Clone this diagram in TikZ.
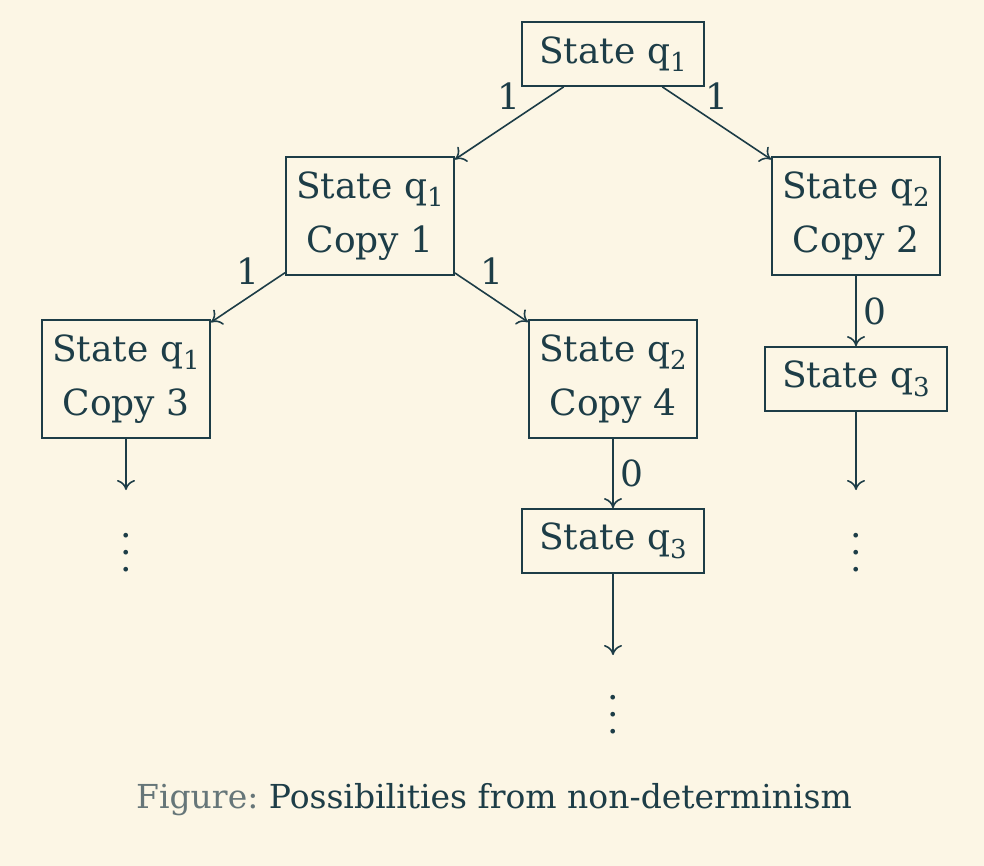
\documentclass[tikz,border=0pt]{standalone}
\usepackage{fontspec}
\setmainfont{DejaVu Serif}
\usepackage{tikz}
\usetikzlibrary{arrows.meta,positioning}
\definecolor{ink}{HTML}{1D3D47}
\definecolor{paper}{HTML}{FCF6E5}
\definecolor{figgray}{HTML}{667679}
\tikzstyle{state}=[rectangle,draw=ink,fill=paper,line width=0.9pt,minimum width=91pt,minimum height=32pt,inner sep=0pt,align=center,font=\fontsize{18}{27}\selectfont]
\tikzstyle{copystate}=[state,minimum width=84pt,minimum height=59pt]
\tikzstyle{edge} = [draw,line width=0.8pt,-{To[length=5pt,width=9pt]},ink]
\tikzstyle{weight} = [font=\fontsize{18}{20}\selectfont,text=ink]
\newcommand{\qsub}[1]{q\raisebox{-0.45ex}{\fontsize{13}{13}\selectfont #1}}
\newcommand{\moredots}{\vbox{\baselineskip=8.5pt\lineskiplimit=0pt\hbox{.}\hbox{.}\hbox{.}}}

\begin{document}
\begin{tikzpicture}[x=0.5pt,y=-0.5pt,text=ink]
    \fill[paper] (0,0) rectangle (984,866);
    \useasboundingbox (0,0) rectangle (984,866);
    % First we draw the states
    \foreach \pos/\name/\label in {{(613,54)/R/State \qsub{1}}, {(856,379)/B3/State \qsub{3}}, {(613,541)/A3/State \qsub{3}}}
        \node[state] (\name) at \pos {\label};

    \foreach \pos/\name/\label in {{(370,216)/C1/State \qsub{1}\\Copy 1}, {(856,216)/C2/State \qsub{2}\\Copy 2},
                                   {(126,379)/C3/State \qsub{1}\\Copy 3}, {(613,379)/C4/State \qsub{2}\\Copy 4}}
        \node[copystate] (\name) at \pos {\label};

    % Ends of the open branches
    \coordinate (E1) at (126,490);
    \coordinate (E2) at (613,655);
    \coordinate (E3) at (856,490);
    \node[weight] (D1) at (126,553) {\moredots};
    \node[weight] (D2) at (613,715) {\moredots};
    \node[weight] (D3) at (856,553) {\moredots};

    % Connect states with edges and draw weights
    \foreach \source/ \dest /\weight in {R/C1/1, R/C2/1, C1/C3/1, C1/C4/1}
        \path[edge] (\source) -- node[weight,above=3pt] {\weight} (\dest);
    \foreach \source/ \dest /\weight in {C2/B3/0, C4/A3/0}
        \path[edge] (\source) -- node[weight,right] {\weight} (\dest);
    \foreach \source/ \dest in {C3/E1, A3/E2, B3/E3}
        \path[edge] (\source) -- (\dest);

    \node[weight,font=\fontsize{16.5}{20}\selectfont\frenchspacing] (caption) at (494,800) {{\color{figgray}Figure:} Possibilities from non-determinism};
\end{tikzpicture}
\end{document}
